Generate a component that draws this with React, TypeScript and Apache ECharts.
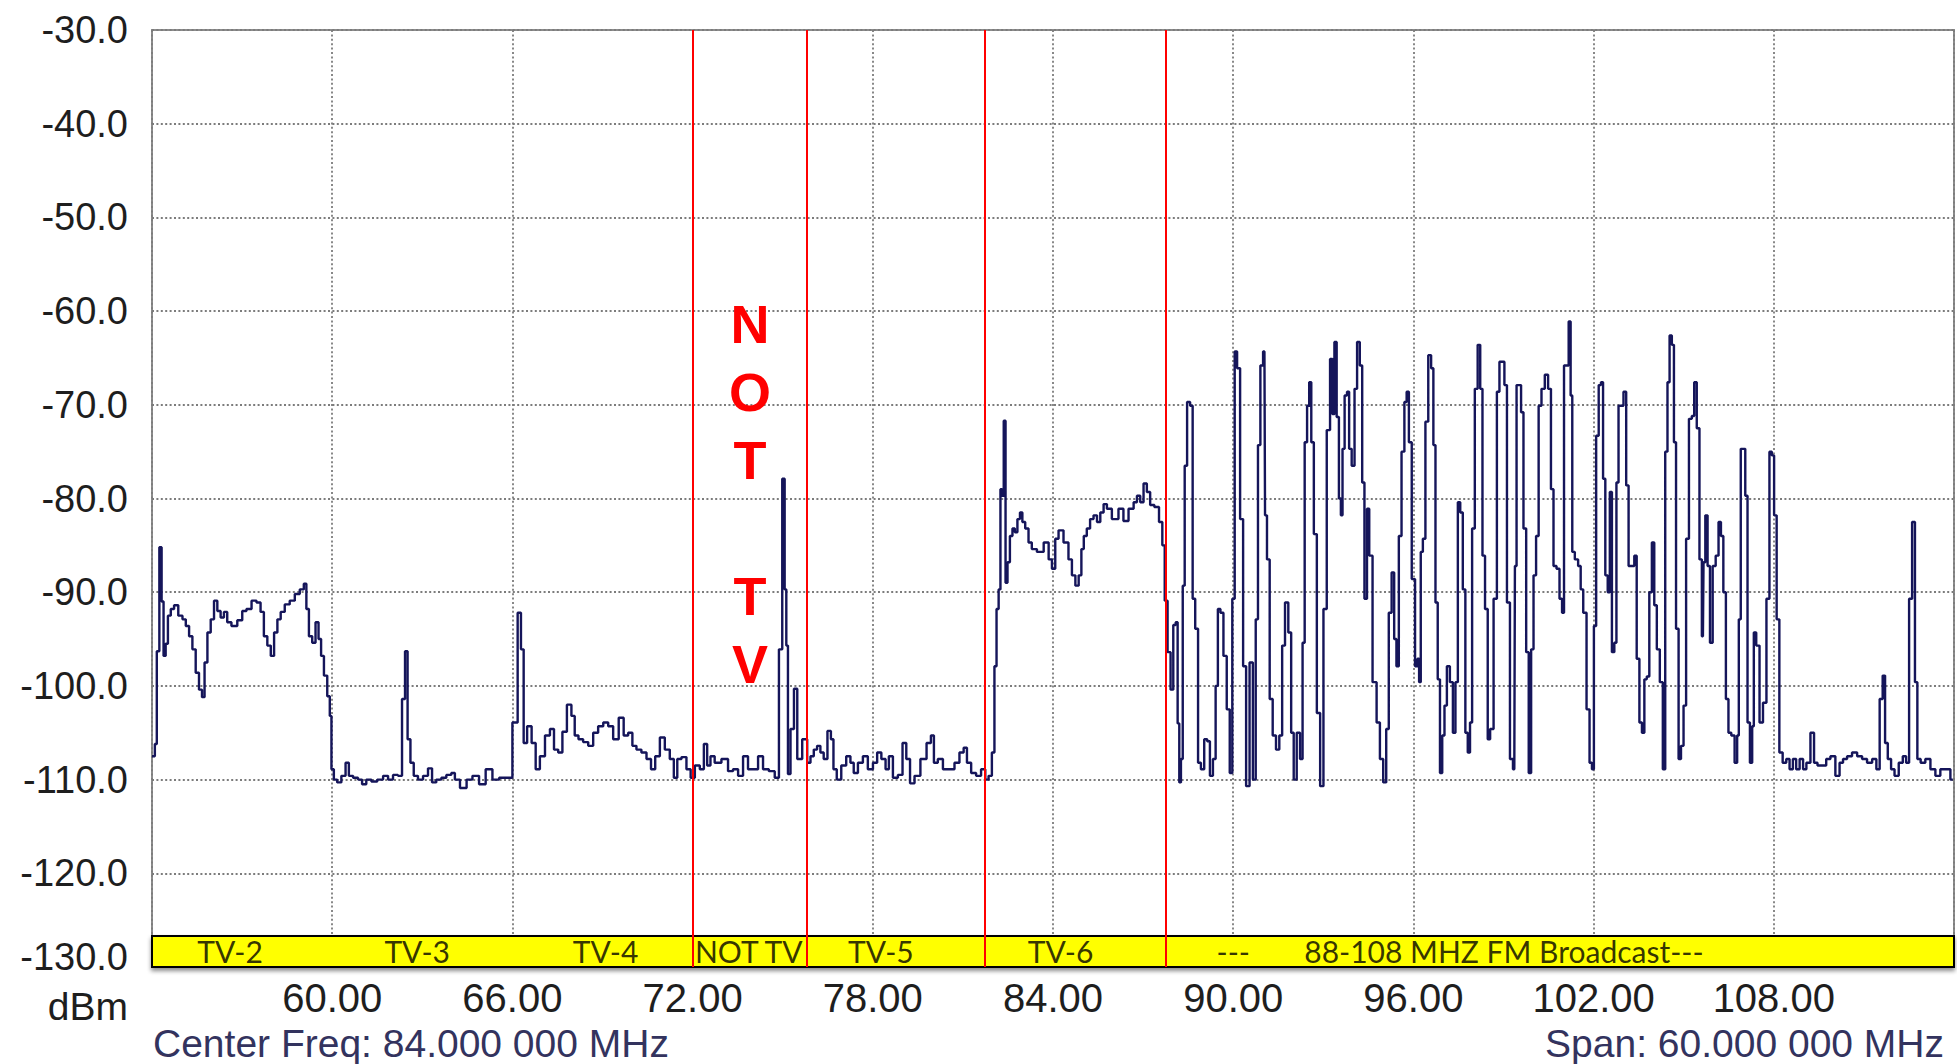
import React, { useEffect, useRef } from "react";
import * as echarts from "echarts";

// Axis settings (MHz / dBm)
const xMin = 54;
const xMax = 114;
const xStep = 6;
const yMin = -130;
const yMax = -30;
const yStep = 10;

// Spectrum trace: [frequency MHz, level dBm]
const tv2Trace = [
  [54.0, -107.5], [54.07, -107.5], [54.12, -106.2], [54.2, -96.3], [54.29, -85.2], [54.35, -91], [54.42, -96.8],
  [54.49, -95.5], [54.57, -92.5], [54.68, -91.8], [54.79, -91.4], [54.96, -92.5], [55.07, -92.9], [55.18, -93.6],
  [55.29, -94.7], [55.4, -96.1], [55.51, -98.6], [55.62, -100.4], [55.71, -101.2], [55.79, -97.5], [55.9, -94.3],
  [56.01, -92.9], [56.12, -90.9], [56.23, -92], [56.34, -92.7], [56.45, -92.1], [56.56, -93.2], [56.73, -93.6],
  [56.95, -93], [57.06, -92], [57.23, -91.8], [57.4, -90.9], [57.56, -91.1], [57.67, -92.1], [57.78, -94.7],
  [57.9, -95.7], [58.01, -96.8], [58.12, -94.3], [58.23, -92.9], [58.34, -92.1], [58.5, -91.3], [58.67, -90.9],
  [58.84, -90.2], [59.0, -89.7], [59.11, -89.1], [59.17, -91.8], [59.28, -94.7], [59.39, -95.4], [59.5, -93.2],
  [59.59, -95], [59.67, -96.8], [59.78, -98.9], [59.89, -101.1], [59.95, -103.2],
];

const tv3Trace = [
  [60.0, -108.9], [60.11, -110], [60.22, -110.3], [60.39, -109.6], [60.5, -108.2], [60.61, -109.6], [60.78, -109.8],
  [60.94, -110], [61.05, -110.5], [61.22, -110], [61.39, -110.2], [61.61, -110], [61.78, -109.6], [61.94, -110],
  [62.11, -109.5], [62.27, -109.6], [62.38, -101.4], [62.47, -96.3], [62.55, -105.7], [62.66, -108.2],
  [62.77, -109.6], [62.94, -110], [63.11, -109.6], [63.27, -108.8], [63.38, -110.3], [63.55, -110], [63.72, -109.8],
  [63.88, -109.5], [64.05, -109.3], [64.12, -110], [64.39, -110.9], [64.56, -110], [64.78, -109.6], [65.0, -110.5],
  [65.22, -108.9], [65.45, -110], [65.67, -109.8], [65.89, -109.8],
];

const tv4Trace = [
  [66.11, -103.9], [66.24, -92.2], [66.33, -96.1], [66.42, -106.1], [66.56, -104.3], [66.72, -106.1], [66.83, -108.9],
  [67.0, -107.5], [67.17, -105.3], [67.33, -104.6], [67.44, -106.8], [67.61, -107.1], [67.72, -104.9], [67.91, -102],
  [68.02, -103.2], [68.13, -105.3], [68.27, -105.7], [68.44, -106], [68.61, -106.4], [68.77, -105], [68.94, -104.3],
  [69.11, -103.9], [69.27, -104.3], [69.44, -105.7], [69.64, -103.4], [69.77, -105.3], [69.94, -105], [70.05, -106.4],
  [70.21, -106.8], [70.38, -107.1], [70.55, -107.8], [70.68, -108.9], [70.83, -107.5], [70.99, -105.5], [71.16, -106.8],
  [71.32, -107.8], [71.43, -109.8], [71.55, -107.8], [71.71, -107.6], [71.88, -108.9],
];

const notTvTrace = [
  [71.99, -109.8], [72.16, -108.5], [72.32, -108.9], [72.43, -106.2], [72.54, -108.5], [72.65, -107.5], [72.82, -108.2],
  [73.1, -107.8], [73.26, -109.1], [73.43, -108.9], [73.6, -109.6], [73.76, -107.5], [73.93, -108.9], [74.1, -108.9],
  [74.26, -107.5], [74.43, -108.9], [74.65, -109.1], [74.82, -109.8], [74.93, -96.1], [75.04, -77.9], [75.09, -89.7],
  [75.15, -95.7], [75.2, -109.4], [75.32, -104.6], [75.43, -100.3], [75.54, -107.8],
];

const tv5Trace = [
  [75.76, -105.7], [75.87, -108.2], [75.98, -107.5], [76.09, -106.8], [76.2, -106.4], [76.31, -107.1], [76.42, -107.8],
  [76.56, -104.8], [76.65, -105.7], [76.73, -108.9], [76.87, -110], [77.03, -108.5], [77.2, -107.5], [77.31, -108.2],
  [77.42, -109.3], [77.59, -108.2], [77.75, -107.5], [77.92, -108.9], [78.09, -108.2], [78.2, -107.1], [78.37, -107.8],
  [78.48, -108.9], [78.59, -107.5], [78.75, -109.8], [78.92, -109.5], [79.06, -106.1], [79.17, -107.8], [79.31, -110.4],
  [79.47, -109.6], [79.7, -107.8], [79.88, -106.1], [79.99, -105.3], [80.08, -108.2], [80.25, -107.8], [80.42, -108.9],
  [80.64, -108.9], [80.8, -108.2], [80.97, -107.1], [81.08, -106.6], [81.19, -108.2], [81.36, -109.3], [81.52, -109.6],
  [81.69, -108.9], [81.8, -110], [81.91, -109.6],
];

const tv6Trace = [
  [82.02, -107.1], [82.08, -97.9], [82.16, -91.8], [82.22, -89.7], [82.28, -79], [82.33, -79.7], [82.39, -71.7],
  [82.45, -89], [82.52, -86.8], [82.61, -84], [82.69, -83.2], [82.77, -83.6], [82.86, -82.2], [82.94, -81.5],
  [83.02, -82.5], [83.13, -83.2], [83.24, -84.7], [83.35, -85.4], [83.58, -85.7], [83.8, -84.7], [83.91, -86.5],
  [84.02, -87.5], [84.13, -84.3], [84.24, -83.4], [84.46, -84.7], [84.57, -86.5], [84.69, -88.2], [84.8, -89.3],
  [84.91, -88.2], [84.98, -85.4], [85.07, -84], [85.18, -83.2], [85.29, -82.2], [85.41, -81.8], [85.52, -82.5],
  [85.63, -81.5], [85.74, -80.6], [85.85, -81.1], [86.07, -82.2], [86.29, -81.1], [86.4, -82.4], [86.63, -81.1],
  [86.74, -80.4], [86.85, -79.7], [86.96, -80.4], [87.07, -78.4], [87.18, -79.3], [87.29, -80.7], [87.46, -80.9],
  [87.6, -82.5], [87.68, -85],
];

const fmTraceLow = [
  [87.76, -90.9], [87.87, -96.4], [87.96, -100.4], [88.05, -93.5], [88.12, -93.2], [88.18, -104], [88.23, -110.3],
  [88.29, -107.8], [88.35, -89.3], [88.42, -76.5], [88.51, -69.7], [88.62, -70.1], [88.68, -90.7], [88.79, -93.9],
  [88.87, -108.2], [88.98, -108.9], [89.09, -105.7], [89.18, -105.9], [89.27, -109.6], [89.38, -107.8], [89.45, -100],
  [89.53, -91.8], [89.62, -92.2], [89.73, -96.8], [89.84, -102.5], [89.93, -109.3], [90.01, -90.7], [90.09, -64.3],
  [90.17, -66.1], [90.29, -82.2], [90.37, -97.9], [90.49, -110.7], [90.6, -97.5], [90.71, -110], [90.79, -92.9],
  [90.86, -74.3], [90.95, -65.8], [91.04, -64.3], [91.08, -81.8], [91.17, -86.5], [91.26, -101.4], [91.37, -105.3],
  [91.48, -106.8], [91.59, -105.3], [91.67, -95.7], [91.78, -91.1], [91.89, -94.3], [91.97, -105], [92.06, -110],
  [92.17, -105], [92.28, -107.8], [92.34, -95.4], [92.42, -74], [92.5, -70.1], [92.56, -67.6], [92.64, -74],
  [92.73, -83.8], [92.84, -102.9], [92.95, -110.7], [93.06, -91.8], [93.17, -72.7], [93.28, -65.1], [93.33, -71],
  [93.41, -63.3], [93.48, -71.3], [93.56, -80], [93.61, -81.8], [93.67, -74.7], [93.75, -69], [93.83, -68.6],
  [93.89, -74.7], [94.0, -76.5], [94.08, -68.3], [94.17, -63.3], [94.26, -65.8], [94.33, -78.3], [94.41, -90.7],
  [94.5, -81.1], [94.56, -86.1], [94.72, -99.6], [94.83, -103.9], [94.94, -107.8], [95.05, -110.3], [95.14, -104.6],
  [95.22, -92.2], [95.33, -87.9], [95.39, -95], [95.48, -97.9], [95.55, -84], [95.66, -75], [95.74, -69.7],
  [95.81, -68.6], [95.89, -74], [96.0, -88.6], [96.11, -97.9],
];

const fmTraceMid = [
  [96.16, -97.1], [96.22, -99.6], [96.27, -85.7], [96.36, -84.3], [96.44, -71.8], [96.55, -64.7], [96.63, -66.1],
  [96.7, -74.3], [96.77, -91.1], [96.85, -99.3], [96.92, -109.3], [97.0, -105.3], [97.07, -102.1], [97.16, -97.9],
  [97.27, -99.6], [97.36, -105], [97.44, -99.6], [97.52, -80.4], [97.6, -81.5], [97.69, -89.7], [97.77, -105],
  [97.85, -107.1], [97.92, -103.9], [97.99, -83.2], [98.1, -68.3], [98.18, -63.6], [98.27, -68.3], [98.33, -86.1],
  [98.44, -91.8], [98.51, -105.7], [98.6, -104.6], [98.74, -90.7], [98.82, -68.6], [98.91, -65.4], [98.99, -65.4],
  [99.07, -67.9], [99.16, -91.1], [99.27, -107.8], [99.36, -108.9], [99.4, -87.2], [99.47, -67.9], [99.55, -67.9],
  [99.62, -70.8], [99.71, -83.2], [99.8, -96.4], [99.88, -109.3], [99.96, -96.1], [100.04, -88.2], [100.13, -84],
  [100.21, -70.1], [100.32, -68.3], [100.43, -66.8], [100.54, -68.3], [100.62, -79], [100.71, -87.2], [100.82, -87.5],
  [100.91, -90.7], [100.99, -92.2], [101.04, -65.8], [101.13, -65.8], [101.21, -61.1], [101.26, -69], [101.32, -85.7],
  [101.43, -86.5], [101.54, -87.2], [101.6, -89.7], [101.71, -92.2], [101.82, -102.5], [101.91, -108.2],
  [101.98, -108.9], [102.04, -93.6], [102.13, -73.3], [102.21, -67.9], [102.28, -67.6], [102.35, -77.9], [102.43, -88.2],
  [102.51, -90], [102.57, -79.3], [102.65, -96.4], [102.73, -95.4], [102.79, -78.3], [102.87, -70.1], [102.95, -70.1],
  [103.04, -68.6], [103.13, -78.6], [103.2, -87.2], [103.32, -87.2], [103.39, -86.1], [103.48, -97.1], [103.57, -103.9],
  [103.65, -105], [103.73, -99.3], [103.81, -99], [103.9, -90], [103.98, -84.7], [104.06, -91.4], [104.15, -96.1],
  [104.26, -99.6], [104.35, -108.9], [104.42, -75], [104.5, -67.6], [104.56, -62.6], [104.65, -63.6], [104.7, -74],
  [104.79, -93.9], [104.87, -107.8], [104.95, -106.4], [105.04, -102.1], [105.12, -84.3],
];

const fmTraceHigh = [
  [105.23, -71.5], [105.31, -71.2], [105.39, -67.6], [105.48, -72.5], [105.57, -86.5], [105.64, -94.7], [105.68, -86.8],
  [105.76, -81.8], [105.83, -87.2], [105.92, -95.4], [106.01, -87.2], [106.12, -86.1], [106.2, -82.5], [106.28, -84],
  [106.36, -90], [106.45, -101.4], [106.53, -105], [106.64, -105.3], [106.75, -108.2], [106.81, -105.3], [106.86, -92.9],
  [106.94, -74.7], [107.01, -74.7], [107.09, -79.7], [107.16, -103.9], [107.25, -108.2], [107.31, -104.3],
  [107.36, -94.3], [107.47, -95.7], [107.58, -103.9], [107.7, -101.8], [107.81, -90.7], [107.9, -75], [107.97, -75.4],
  [108.05, -81.8], [108.14, -92.9], [108.23, -107.1], [108.36, -108.2], [108.47, -107.8], [108.58, -108.9],
  [108.69, -107.8], [108.8, -108.9], [108.92, -107.8], [109.03, -108.9], [109.14, -108.2], [109.3, -105], [109.38, -108.2],
  [109.53, -108.5], [109.69, -108.5], [109.8, -107.8], [109.97, -107.5], [110.13, -109.6], [110.25, -108.2],
  [110.36, -107.8], [110.52, -107.5], [110.69, -107.1], [110.86, -107.5], [111.02, -107.8], [111.19, -108.2],
  [111.36, -107.8], [111.47, -108.9], [111.58, -101.4], [111.67, -98.9], [111.74, -106.1], [111.85, -107.8],
  [111.96, -108.9], [112.08, -109.6], [112.24, -108.2], [112.35, -107.5], [112.46, -108.2], [112.55, -90.7],
  [112.66, -82.5], [112.74, -99.6], [112.82, -107.8], [112.96, -108.2], [113.13, -107.8], [113.3, -108.9],
  [113.46, -109.6], [113.63, -108.9], [113.8, -108.9], [113.96, -110],
];

// Hand-drawn band boundaries (MHz)
const redLineFreqs = [72, 75.8, 81.72, 87.76];

// Yellow channel band
const bandTop = -126.7;
const bandBottom = -130;
const bandTextLevel = -128.3;
const bandLabels = [
  { name: "TV-2", freq: 56.6 },
  { name: "TV-3", freq: 62.83 },
  { name: "TV-4", freq: 69.1 },
  { name: "NOT TV", freq: 73.87 },
  { name: "TV-5", freq: 78.27 },
  { name: "TV-6", freq: 84.25 },
  { name: "---", freq: 90.0 },
];
const fmBandLabel = { name: "88-108 MHZ FM Broadcast---", freq: 92.35 };

const unitText = "dBm";
const centerText = "Center Freq: 84.000 000 MHz";
const spanText = "Span: 60.000 000 MHz";
const noteText = "N\nO\nT\n\nT\nV";

const AXIS_FONT = '"Liberation Sans", Arial, sans-serif';

export default function App() {
  const ref = useRef<HTMLDivElement>(null);

  useEffect(() => {
    document.body.style.margin = "0";
    document.body.style.overflow = "hidden";
    const chart = echarts.init(ref.current as HTMLDivElement, null, { renderer: "svg" });
    const trace = [
      ...tv2Trace,
      ...tv3Trace,
      ...tv4Trace,
      ...notTvTrace,
      ...tv5Trace,
      ...tv6Trace,
      ...fmTraceLow,
      ...fmTraceMid,
      ...fmTraceHigh,
    ];

    const gridLine = { color: "#7c7c7c", width: 1.8, type: [2, 2.4] as any };

    chart.setOption({
      animation: false,
      backgroundColor: "#ffffff",
      grid: {
        left: 152,
        right: 1,
        top: 30,
        bottom: 97,
        show: true,
        borderColor: "#8c8c8c",
        borderWidth: 2,
        backgroundColor: "transparent",
      },
      xAxis: {
        type: "value",
        min: xMin,
        max: xMax,
        interval: xStep,
        axisLine: { show: false },
        axisTick: { show: false },
        splitLine: { show: true, lineStyle: gridLine },
        axisLabel: {
          margin: 11,
          fontFamily: AXIS_FONT,
          fontSize: 40,
          color: "#1e1e1e",
          formatter: (v: number) => (v === xMin || v === xMax ? "" : v.toFixed(2)),
        },
      },
      yAxis: {
        type: "value",
        min: yMin,
        max: yMax,
        interval: yStep,
        axisLine: { show: false },
        axisTick: { show: false },
        splitLine: { show: true, lineStyle: gridLine },
        axisLabel: {
          margin: 24,
          fontFamily: AXIS_FONT,
          fontSize: 38,
          color: "#1e1e1e",
          formatter: (v: number) => (v === yMin ? `{low|${v.toFixed(1)}}` : v.toFixed(1)),
          rich: {
            low: {
              fontFamily: AXIS_FONT,
              fontSize: 38,
              color: "#1e1e1e",
              padding: [0, 0, 20, 0],
            },
          },
        },
      },
      series: [
        {
          type: "line",
          name: "trace",
          data: trace,
          step: "middle",
          showSymbol: false,
          symbol: "none",
          z: 3,
          lineStyle: { color: "#15155a", width: 2.4 },
          markArea: {
            silent: true,
            label: { show: false },
            itemStyle: {
              color: "#ffff00",
              opacity: 1,
              borderColor: "#000000",
              borderWidth: 2,
              shadowColor: "rgba(0,0,0,0.45)",
              shadowBlur: 4,
              shadowOffsetY: 3,
            },
            data: [[{ xAxis: xMin, yAxis: bandTop }, { xAxis: xMax, yAxis: bandBottom }]],
          },
          markLine: {
            silent: true,
            symbol: ["none", "none"],
            label: { show: false },
            lineStyle: { color: "#ff0000", width: 2, type: "solid" },
            data: redLineFreqs.map((f) => [{ coord: [f, yMax] }, { coord: [f, yMin] }]),
          },
        },
        {
          type: "scatter",
          name: "bands",
          symbolSize: 1,
          z: 6,
          itemStyle: { color: "rgba(0,0,0,0)" },
          label: {
            show: true,
            position: "inside",
            formatter: (p: any) => p.name,
            fontFamily: "Lato, sans-serif",
            fontSize: 30,
            color: "#000000",
          },
          data: [
            ...bandLabels.map((b) => ({ name: b.name, value: [b.freq, bandTextLevel] })),
            {
              name: fmBandLabel.name,
              value: [fmBandLabel.freq, bandTextLevel],
              label: { position: "right", distance: 0 },
            },
          ],
        },
      ],
      graphic: [
        {
          type: "text",
          x: 128,
          y: 1006,
          style: {
            text: unitText,
            align: "right",
            verticalAlign: "middle",
            font: `39px ${AXIS_FONT}`,
            fill: "#1e1e1e",
          },
        },
        {
          type: "text",
          x: 153,
          y: 1043,
          style: {
            text: centerText,
            align: "left",
            verticalAlign: "middle",
            font: `39px ${AXIS_FONT}`,
            fill: "#33335e",
          },
        },
        {
          type: "text",
          x: 1944,
          y: 1043,
          style: {
            text: spanText,
            align: "right",
            verticalAlign: "middle",
            font: `39px ${AXIS_FONT}`,
            fill: "#33335e",
          },
        },
        {
          type: "text",
          x: 750,
          y: 494,
          z: 10,
          style: {
            text: noteText,
            align: "center",
            verticalAlign: "middle",
            lineHeight: 68,
            font: `bold 54px ${AXIS_FONT}`,
            fill: "#ff0000",
          },
        },
      ],
    });

    return () => chart.dispose();
  }, []);

  return (
    <div
      ref={ref}
      style={{ position: "absolute", left: 0, top: 0, width: 1957, height: 1064, background: "#fff" }}
    />
  );
}
